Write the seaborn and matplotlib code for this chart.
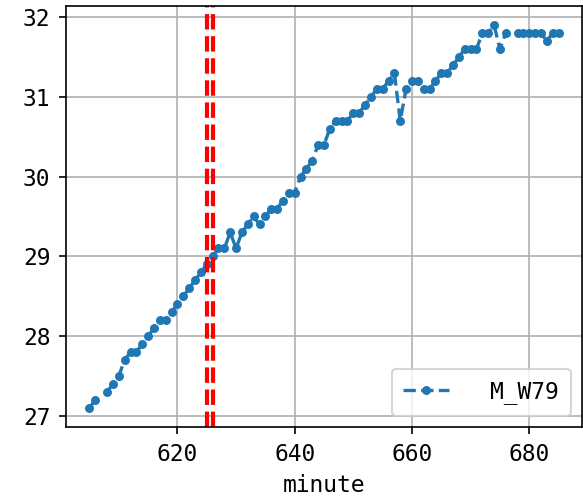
import numpy as np
import pandas as pd
import matplotlib
matplotlib.use("Agg")
import matplotlib.pyplot as plt
import seaborn as sns

minutes = list(range(605, 686))
temps = [27.1, 27.2, np.nan, 27.3, 27.4, 27.5, 27.7, 27.8, 27.8, 27.9,
         28.0, 28.1, 28.2, 28.2, 28.3, 28.4, 28.5, 28.6, 28.7, 28.8,
         28.9, 29.0, 29.1, 29.1, 29.3, 29.1, 29.3, 29.4, 29.5, 29.4,
         29.5, 29.6, 29.6, 29.7, 29.8, 29.8, 30.0, 30.1, 30.2, 30.4,
         30.4, 30.6, 30.7, 30.7, 30.7, 30.8, 30.8, 30.9, 31.0, 31.1,
         31.1, 31.2, 31.3, 30.7, 31.1, 31.2, 31.2, 31.1, 31.1, 31.2,
         31.3, 31.3, 31.4, 31.5, 31.6, 31.6, 31.6, 31.8, 31.8, 31.9,
         31.6, 31.8, np.nan, 31.8, 31.8, 31.8, 31.8, 31.8, 31.7, 31.8,
         31.8]
series_name = "M_W79"
marker_lines = [625, 626]
x_ticks = [620, 640, 660, 680]
y_ticks = [27, 28, 29, 30, 31, 32]

df = pd.DataFrame({"minute": minutes, "value": temps})
# break the line at missing values
df["seg"] = df["value"].isna().cumsum()
df = df.dropna()

plt.rcParams["font.family"] = ["DejaVu Sans Mono"]
plt.rcParams["font.size"] = 11

fig = plt.figure(figsize=(583 / 150, 503 / 150), dpi=150)
ax = fig.add_axes([66 / 583, 1 - 427 / 503, (582 - 66) / 583, (427 - 6) / 503])

sns.lineplot(data=df, x="minute", y="value", units="seg", estimator=None,
             ax=ax, color="#1f77b4", linestyle="--", marker="o",
             markersize=3.4, markeredgewidth=0.9, markeredgecolor="#1f77b4",
             linewidth=1.6, label=series_name, sort=False)

for xv in marker_lines:
    ax.axvline(xv, color="red", linestyle="--", linewidth=2)

ax.set_xticks(x_ticks)
ax.set_yticks(y_ticks)
ax.grid(True, color="#b0b0b0", linewidth=0.8)
ax.set_axisbelow(True)
ax.set_xlabel("minute")
ax.set_ylabel("")
ax.set_xlim(601, 689)
ax.set_ylim(26.86, 32.14)
ax.tick_params(length=3.5, width=0.8, pad=4)
for s in ax.spines.values():
    s.set_visible(True)
    s.set_color("black")
    s.set_linewidth(0.8)

handles, labels = ax.get_legend_handles_labels()
ax.legend(handles[:1], labels[:1], loc="lower right", handletextpad=1.8,
          borderpad=0.5)

fig.savefig("out.png", dpi=150)
